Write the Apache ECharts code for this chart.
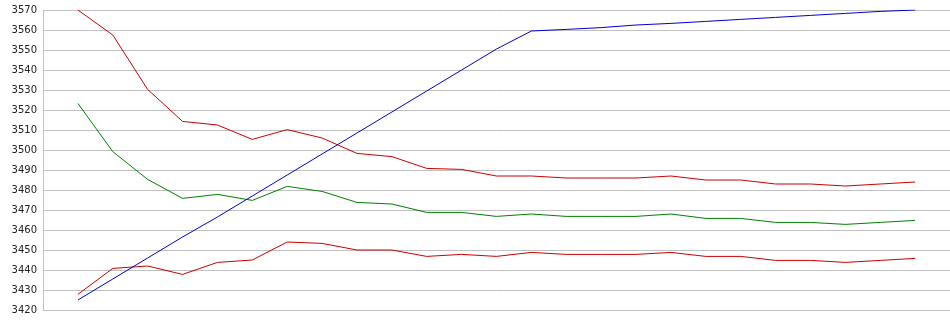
<!DOCTYPE html>
<html>
<head>
<meta charset="utf-8">
<title>Channel chart</title>
<script src="https://cdn.jsdelivr.net/npm/echarts@6/dist/echarts.min.js"></script>
<style>
  html, body { margin: 0; padding: 0; background: #ffffff; }
  #chart { width: 950px; height: 335px; }
</style>
</head>
<body>
<div id="chart"></div>
<script>
// Sample positions along the horizontal axis (axis runs from 0 to 26)
const periods = [1, 2, 3, 4, 5, 6, 7, 8, 9, 10, 11, 12, 13, 14, 15, 16, 17, 18, 19, 20, 21, 22, 23, 24, 25];

// Upper band
const upperBand = [3570, 3557.5, 3530.3, 3514.3, 3512.5, 3505.3, 3510.2, 3506, 3498.3, 3496.7, 3490.8, 3490.3, 3487, 3487, 3486, 3486, 3486, 3487, 3485, 3485, 3483, 3483, 3482, 3483, 3484];

// Middle line
const middleLine = [3523.3, 3499.2, 3485.3, 3475.8, 3477.8, 3474.8, 3481.8, 3479.3, 3473.8, 3473, 3468.8, 3468.8, 3466.8, 3468, 3466.8, 3466.8, 3466.8, 3468, 3465.8, 3465.8, 3463.8, 3463.8, 3462.8, 3463.8, 3464.8];

// Lower band
const lowerBand = [3427.8, 3440.8, 3442, 3437.8, 3443.8, 3445, 3454, 3453.3, 3450, 3450, 3446.8, 3447.8, 3446.8, 3448.8, 3447.8, 3447.8, 3447.8, 3448.8, 3446.8, 3446.8, 3444.8, 3444.8, 3443.8, 3444.8, 3445.8];

// Rising trend line
const trendLine = [3425, 3435.5, 3446, 3456.5, 3466.5, 3477, 3487.5, 3498, 3508.5, 3519, 3529.5, 3540, 3550.5, 3559.5, 3560.3, 3561.2, 3562.5, 3563.3, 3564.3, 3565.3, 3566.3, 3567.3, 3568.3, 3569.3, 3570];

// Y-axis tick labels
const yTicks = [3420, 3430, 3440, 3450, 3460, 3470, 3480, 3490, 3500, 3510, 3520, 3530, 3540, 3550, 3560, 3570];

function pairs(values) {
  return periods.map((p, i) => [p, values[i]]);
}

function lineSeries(name, values, color) {
  return {
    name: name,
    type: 'line',
    data: pairs(values),
    symbol: 'none',
    smooth: false,
    animation: false,
    lineStyle: { color: color, width: 1 },
    emphasis: { disabled: true }
  };
}

const chart = echarts.init(document.getElementById('chart'), null, { renderer: 'canvas' });

chart.setOption({
  backgroundColor: '#ffffff',
  animation: false,
  grid: { left: 43, right: 0, top: 10, bottom: 25, containLabel: false },
  xAxis: {
    type: 'value',
    min: 0,
    max: 26,
    interval: 1,
    axisLine: { show: true, lineStyle: { color: '#c0c0c0', width: 1 } },
    axisTick: { show: false },
    axisLabel: { show: false },
    splitLine: { show: false }
  },
  yAxis: {
    type: 'value',
    min: yTicks[0],
    max: yTicks[yTicks.length - 1],
    interval: 10,
    axisLine: { show: true, lineStyle: { color: '#c0c0c0', width: 1 } },
    axisTick: { show: false },
    axisLabel: {
      show: true,
      margin: 6,
      color: '#222222',
      fontFamily: 'DejaVu Sans',
      fontSize: 10,
      formatter: function (v) { return yTicks.indexOf(v) >= 0 ? String(v) : ''; }
    },
    splitLine: { show: true, lineStyle: { color: '#c0c0c0', width: 1 } }
  },
  series: [
    lineSeries('Upper', upperBand, '#cc0000'),
    lineSeries('Middle', middleLine, '#008000'),
    lineSeries('Lower', lowerBand, '#cc0000'),
    lineSeries('Trend', trendLine, '#0000cc')
  ]
});
</script>
</body>
</html>
